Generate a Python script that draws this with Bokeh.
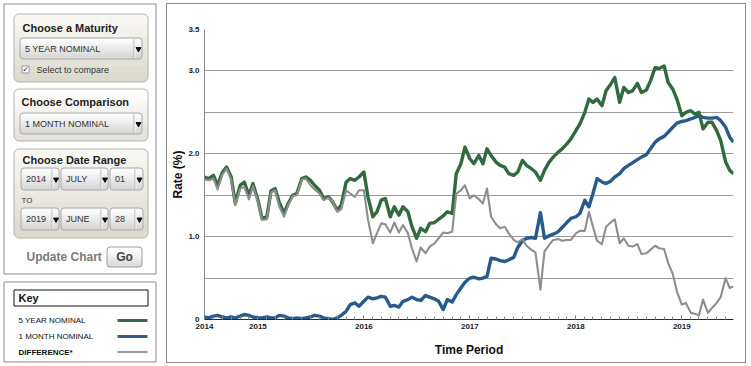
import pandas as pd
from bokeh.plotting import figure
from bokeh.layouts import row
from bokeh.models import Range1d, FixedTicker
from bokeh.core.properties import value
from bokeh.embed import file_html
from bokeh.resources import INLINE

FONT = "Liberation Sans"

# ---------------- data ----------------
series_names = ["5 YEAR NOMINAL", "1 MONTH NOMINAL", "DIFFERENCE*"]
dates = list(pd.date_range("2014-07-01", "2019-06-15", freq="SMS")) + [pd.Timestamp("2019-06-28")]

five_year = [
    1.72, 1.70, 1.74, 1.62, 1.78, 1.84, 1.72, 1.40, 1.62, 1.66, 1.50, 1.64,
    1.44, 1.22, 1.24, 1.55, 1.58, 1.42, 1.28, 1.40, 1.50, 1.52, 1.70, 1.72,
    1.68, 1.62, 1.56, 1.46, 1.48, 1.42, 1.32, 1.38, 1.66, 1.70, 1.68, 1.72,
    1.78, 1.48, 1.24, 1.30, 1.44, 1.46, 1.24, 1.36, 1.26, 1.36, 1.30, 1.12,
    0.98, 1.10, 1.06, 1.16, 1.17, 1.21, 1.25, 1.30, 1.28, 1.76, 1.88, 2.08,
    1.94, 1.88, 1.98, 1.88, 2.06, 1.98, 1.90, 1.86, 1.84, 1.76, 1.74, 1.78,
    1.92, 1.86, 1.82, 1.78, 1.68, 1.80, 1.90, 1.96, 2.02, 2.06, 2.12, 2.18,
    2.28, 2.36, 2.50, 2.66, 2.62, 2.66, 2.58, 2.76, 2.84, 2.92, 2.62, 2.80,
    2.74, 2.76, 2.85, 2.74, 2.77, 2.88, 3.04, 3.03, 3.06, 2.86, 2.78, 2.66,
    2.46, 2.50, 2.52, 2.48, 2.50, 2.30, 2.38, 2.38, 2.28, 2.16, 1.90, 1.80, 1.76,
]
one_month = [
    0.03, 0.02, 0.04, 0.05, 0.03, 0.02, 0.03, 0.02, 0.04, 0.06, 0.05, 0.03,
    0.02, 0.02, 0.03, 0.02, 0.02, 0.05, 0.04, 0.02, 0.01, 0.02, 0.01, 0.02,
    0.03, 0.05, 0.04, 0.02, 0.01, 0.00, 0.02, 0.05, 0.10, 0.18, 0.20, 0.16,
    0.22, 0.27, 0.25, 0.26, 0.28, 0.27, 0.16, 0.17, 0.15, 0.22, 0.24, 0.27,
    0.24, 0.23, 0.29, 0.27, 0.25, 0.22, 0.12, 0.24, 0.21, 0.30, 0.38, 0.45,
    0.50, 0.51, 0.49, 0.50, 0.52, 0.74, 0.73, 0.71, 0.70, 0.72, 0.75, 0.87,
    0.95, 0.98, 0.99, 0.98, 1.29, 0.98, 1.01, 1.03, 1.06, 1.11, 1.17, 1.22,
    1.24, 1.28, 1.44, 1.36, 1.52, 1.70, 1.66, 1.64, 1.67, 1.72, 1.76, 1.82,
    1.86, 1.89, 1.93, 1.96, 1.99, 2.06, 2.14, 2.18, 2.21, 2.26, 2.32, 2.37,
    2.39, 2.40, 2.42, 2.44, 2.46, 2.44, 2.43, 2.43, 2.44, 2.40, 2.32, 2.20, 2.14,
]
difference = [
    1.69, 1.68, 1.70, 1.57, 1.75, 1.82, 1.69, 1.38, 1.58, 1.60, 1.45, 1.61,
    1.42, 1.20, 1.21, 1.53, 1.56, 1.37, 1.24, 1.38, 1.49, 1.50, 1.69, 1.70,
    1.62, 1.57, 1.52, 1.44, 1.47, 1.42, 1.30, 1.33, 1.56, 1.52, 1.48, 1.56,
    1.56, 1.21, 0.92, 1.04, 1.16, 1.15, 1.05, 1.17, 1.05, 1.14, 1.04, 0.86,
    0.70, 0.87, 0.80, 0.88, 0.92, 0.98, 1.05, 1.04, 1.06, 1.52, 1.56, 1.62,
    1.46, 1.50, 1.45, 1.40, 1.58, 1.24, 1.15, 1.10, 1.12, 1.04, 0.96, 0.93,
    0.97, 0.89, 0.84, 0.81, 0.36, 0.82, 0.90, 0.96, 0.97, 0.95, 0.96, 0.96,
    1.04, 1.07, 1.07, 1.30, 1.12, 0.95, 0.91, 1.12, 1.17, 1.21, 0.92, 0.98,
    0.89, 0.88, 0.91, 0.79, 0.80, 0.84, 0.89, 0.86, 0.85, 0.68, 0.55, 0.34,
    0.18, 0.20, 0.08, 0.07, 0.05, 0.24, 0.08, 0.14, 0.20, 0.27, 0.50, 0.38, 0.40,
]
year_tick_dates = ["2014-07-01", "2015-01-01", "2016-01-01", "2017-01-01", "2018-01-01", "2019-01-01"]
year_tick_labels = ["2014", "2015", "2016", "2017", "2018", "2019"]
rate_ticks = [0.0, 0.5, 1.0, 1.5, 2.0, 2.5, 3.0, 3.5]
rate_tick_labels = ["0", "", "1.0", "", "2.0", "", "3.0", "3.5"]

maturity_choice = "5 YEAR NOMINAL"
comparison_choice = "1 MONTH NOMINAL"
start_parts = ["2014", "JULY", "01"]
end_parts = ["2019", "JUNE", "28"]


def dec_year(ts):
    ts = pd.Timestamp(ts)
    start = pd.Timestamp(year=ts.year, month=1, day=1)
    days = 366 if ts.is_leap_year else 365
    return ts.year + (ts - start).days / days


xs = [dec_year(d) for d in dates]
year_ticks = [dec_year(d) for d in year_tick_dates]
month_ticks = [dec_year(d) for d in pd.date_range("2014-07-01", "2019-06-28", freq="MS")]

GREEN = "#316a3d"
BLUE = "#285b8c"
GRAY = "#8e8e8e"

# ---------------- chart ----------------
p = figure(width=580, height=360, output_backend="svg", toolbar_location=None,
           x_range=Range1d(xs[0], xs[-1]), y_range=Range1d(0, 3.5),
           min_border_left=38, min_border_right=13, min_border_top=26, min_border_bottom=44,
           margin=(3, 0, 0, 0), frame_align=False,
           styles={"box-shadow": "inset 0 0 0 1px #8a8a8a"})
p.outline_line_color = None
p.border_fill_alpha = 0
p.background_fill_alpha = 0
p.xgrid.visible = False
p.ygrid.ticker = FixedTicker(ticks=rate_ticks)
p.ygrid.grid_line_color = "#9c9c9c"
p.ygrid.grid_line_width = 1

p.xaxis.ticker = FixedTicker(ticks=year_ticks, minor_ticks=month_ticks)
p.xaxis.major_label_overrides = dict(zip(year_ticks, year_tick_labels))
p.xaxis.axis_line_color = "#2a2a2a"
p.xaxis.major_tick_in = 4
p.xaxis.major_tick_out = 0
p.xaxis.minor_tick_in = 3
p.xaxis.minor_tick_out = 0
p.xaxis.major_tick_line_color = "#555555"
p.xaxis.minor_tick_line_color = "#888888"
p.xaxis.major_label_standoff = 4
p.xaxis.axis_label = "Time Period"
p.xaxis.axis_label_standoff = 11

p.yaxis.ticker = FixedTicker(ticks=rate_ticks)
p.yaxis.major_label_overrides = dict(zip(rate_ticks, rate_tick_labels))
p.yaxis.axis_line_color = "#8a8a8a"
p.yaxis.major_tick_in = 0
p.yaxis.major_tick_out = 0
p.yaxis.minor_tick_line_color = None
p.yaxis.major_label_standoff = 5
p.yaxis.axis_label = "Rate (%)"
p.yaxis.axis_label_standoff = 0

for ax in (p.xaxis, p.yaxis):
    ax.major_label_text_font = FONT
    ax.major_label_text_font_size = "8px"
    ax.major_label_text_font_style = "bold"
    ax.major_label_text_color = "#222222"
    ax.axis_label_text_font = FONT
    ax.axis_label_text_font_size = "12px"
    ax.axis_label_text_font_style = "bold"
    ax.axis_label_text_color = "#111111"

p.line(xs, one_month, line_color=BLUE, line_width=3.4, line_join="round")
p.line(xs, five_year, line_color=GREEN, line_width=3.4, line_join="round")
p.line(xs, difference, line_color=GRAY, line_width=2.1, line_join="round")

# ---------------- left control panel ----------------
L = figure(width=166, height=366, output_backend="svg", toolbar_location=None,
           x_range=Range1d(0, 166), y_range=Range1d(366, 0),
           x_axis_location=None, y_axis_location=None, min_border=0, frame_align=False)
L.grid.visible = False
L.outline_line_color = None


def mix(c1, c2, t):
    a = [int(c1[i:i + 2], 16) for i in (1, 3, 5)]
    b = [int(c2[i:i + 2], 16) for i in (1, 3, 5)]
    return "#%02x%02x%02x" % tuple(round(a[k] + (b[k] - a[k]) * t) for k in range(3))


def grad_box(l, r, t, b, c_top, c_bot, line, rad=5, n=10):
    L.quad(left=[l], right=[r], top=[t], bottom=[t + rad], fill_color=c_top, line_color=None,
           border_radius=(rad, rad, 0, 0))
    L.quad(left=[l], right=[r], top=[b - rad], bottom=[b], fill_color=c_bot, line_color=None,
           border_radius=(0, 0, rad, rad))
    h = (b - t - 2 * rad) / n
    tops = [t + rad + i * h for i in range(n)]
    bots = [tt + h + 0.3 for tt in tops]
    cols = [mix(c_top, c_bot, (i + 0.5) / n) for i in range(n)]
    L.quad(left=[l] * n, right=[r] * n, top=tops, bottom=bots, fill_color=cols, line_color=None)
    L.quad(left=[l], right=[r], top=[t], bottom=[b], fill_alpha=0, line_color=line, line_width=1,
           border_radius=rad)


def txt(x, y, s, size, bold=False, color="#222222", align="left", font=FONT):
    L.text(x=[x], y=[y], text=[s], text_font=value(font), text_font_size=size,
           text_font_style="bold" if bold else "normal", text_color=color,
           text_align=align, text_baseline="middle")


def dropdown(l, r, t, b, sep, label):
    grad_box(l, r, t, b, "#fbfbfb", "#d9d9d9", "#a9a9a9", rad=3, n=8)
    L.segment(x0=[sep], y0=[t + 1], x1=[sep], y1=[b - 1], line_color="#b3b3b3", line_width=1)
    L.segment(x0=[sep + 1], y0=[t + 1], x1=[sep + 1], y1=[b - 1], line_color="#f5f5f5", line_width=1)
    L.scatter(x=[(sep + r) / 2 + 0.5], y=[(t + b) / 2 + 0.5], marker="inverted_triangle", size=5,
              fill_color="#111111", line_color="#111111")
    txt(l + 5, (t + b) / 2, label, "9px", color="#333333")


# outer panels
L.quad(left=[3.5], right=[155.5], top=[3.5], bottom=[273.5], fill_color="white",
       line_color="#8c8c8c", line_width=1)
L.quad(left=[3.5], right=[155.5], top=[281.5], bottom=[361.5], fill_color="white",
       line_color="#8c8c8c", line_width=1)

# box 1: maturity
grad_box(13.5, 147.5, 13.5, 81.5, "#f8f7f3", "#dcd9cd", "#b4b3ad")
txt(22, 27.5, "Choose a Maturity", "11px", bold=True, color="#1e1e1e")
dropdown(19.5, 141.5, 37.5, 58.5, 133.5, maturity_choice)
L.quad(left=[21.5], right=[28.5], top=[65.5], bottom=[72.5], fill_color="white",
       line_color="#9a9a9a", line_width=1)
txt(25, 69, "\u2713", "8px", color="#222222", align="center", font="DejaVu Sans")
txt(36, 69.5, "Select to compare", "9px", color="#333333")

# box 2: comparison
grad_box(13.5, 147.5, 88.5, 140.5, "#fefefd", "#e4e2da", "#b4b3ad")
txt(21, 101.5, "Choose Comparison", "11px", bold=True, color="#1e1e1e")
dropdown(19.5, 141.5, 112.5, 133.5, 133.5, comparison_choice)

# box 3: date range
grad_box(13.5, 147.5, 148.5, 237.5, "#f8f7f3", "#dcd9cd", "#b4b3ad")
txt(22, 159, "Choose Date Range", "11px", bold=True, color="#1e1e1e")
row_boxes = [(20.5, 58.5, 51.5), (60.5, 107.5, 100.5), (109.5, 142.5, 134.5)]
for (l, r, s), lab in zip(row_boxes, start_parts):
    dropdown(l, r, 167.5, 189.5, s, lab)
txt(21, 199.5, "TO", "8px", color="#333333")
for (l, r, s), lab in zip(row_boxes, end_parts):
    dropdown(l, r, 207.5, 229.5, s, lab)

# update
txt(26, 256.5, "Update Chart", "12px", bold=True, color="#7a7a7a")
grad_box(106.5, 141.5, 246.5, 266.5, "#ffffff", "#dedede", "#9c9c9c", rad=3, n=6)
txt(124, 256.5, "Go", "12px", bold=True, color="#444444", align="center")

# key
L.quad(left=[13.5], right=[147.5], top=[289.5], bottom=[305.5], fill_color="white",
       line_color="#111111", line_width=1)
txt(18, 297.5, "Key", "11px", bold=True, color="#111111")
key_y = [320, 336, 351.5]
key_colors = ["#3b6a48", "#345f86", "#9a9a9a"]
key_widths = [3.2, 3.2, 2.2]
for i, (name, yy, c, w) in enumerate(zip(series_names, key_y, key_colors, key_widths)):
    txt(18, yy, name, "8px", bold=(i == 2), color="#111111")
    L.segment(x0=[117], y0=[yy], x1=[147], y1=[yy], line_color=c, line_width=w)

layout = row(L, p)
open("out.html", "w").write(file_html(layout, INLINE))
